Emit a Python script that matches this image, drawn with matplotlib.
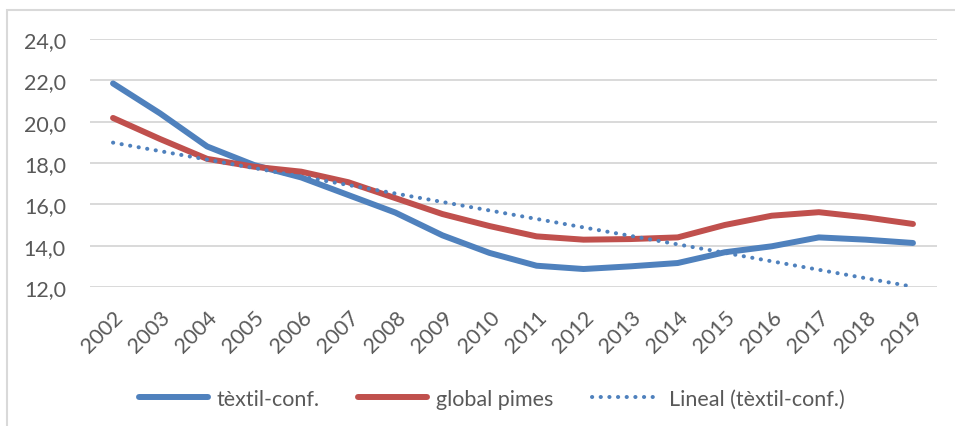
import matplotlib
matplotlib.use('Agg')
import matplotlib.pyplot as plt
from matplotlib.ticker import FuncFormatter
from matplotlib.patches import Rectangle
import numpy as np

plt.rcParams['font.family'] = ['Lato', 'DejaVu Sans']

years = [str(y) for y in range(2002, 2020)]
textil = [21.85, 20.4, 18.8, 17.9, 17.3, 16.45, 15.6, 14.5, 13.65, 13.03,
          12.87, 13.0, 13.16, 13.68, 13.97, 14.4, 14.29, 14.13]
pimes = [20.18, 19.16, 18.2, 17.82, 17.58, 17.07, 16.3, 15.53, 14.95, 14.45,
         14.29, 14.32, 14.4, 15.0, 15.45, 15.62, 15.37, 15.05]

grey_txt = '#595959'
blue = '#4F81BD'
red = '#C0504D'
fs = 15.5

W, H = 955, 427
fig = plt.figure(figsize=(W / 100, H / 100), dpi=100)
ax = fig.add_axes([89.5 / W, 1 - 288 / H, (936.5 - 89.5) / W, (288 - 40) / H])

x = np.arange(len(years))
# linear trendline of the textile series, as Excel does it
k, b = np.polyfit(x, textil, 1)
trend = k * x + b

ax.plot(x, textil, color=blue, lw=4.3, solid_capstyle='round', solid_joinstyle='round',
        label='tèxtil-conf.', zorder=3)
ax.plot(x, pimes, color=red, lw=4.3, solid_capstyle='round', solid_joinstyle='round',
        label='global pimes', zorder=3)
ax.plot(x, trend, color=blue, lw=2.9, linestyle=(0, (0.05, 2.1)), dash_capstyle='round',
        label='Lineal (tèxtil-conf.)', zorder=4)

ax.set_xlim(-0.5, len(years) - 0.5)
ax.set_ylim(12, 24)
ax.set_yticks(np.arange(12, 25, 2))
ax.yaxis.set_major_formatter(FuncFormatter(lambda v, p: f'{v:.1f}'.replace('.', ',')))
ax.grid(axis='y', color='#D9D9D9', lw=1.4)
ax.set_axisbelow(True)
for s in ax.spines.values():
    s.set_visible(False)
ax.tick_params(axis='y', length=0, pad=17, labelsize=fs, labelcolor=grey_txt)
ax.tick_params(axis='x', length=0, pad=14, labelsize=fs, labelcolor=grey_txt)
ax.set_xticks(x)
ax.set_xticklabels(years, rotation=45, ha='right', va='top', rotation_mode='anchor')

leg = fig.legend(loc='center', bbox_to_anchor=(492 / W, 1 - 400 / H), ncol=3, frameon=False,
                 fontsize=fs, handlelength=3.2, handletextpad=0.4, columnspacing=1.8,
                 labelcolor=grey_txt)

# chart area border (only left and top edges fall inside the picture)
fig.add_artist(Rectangle((7 / W, -0.1), 1.2, 1 - 11 / H + 0.1, transform=fig.transFigure,
                         fill=False, edgecolor='#D9D9D9', lw=1.5))

fig.savefig('out.png', dpi=100)
